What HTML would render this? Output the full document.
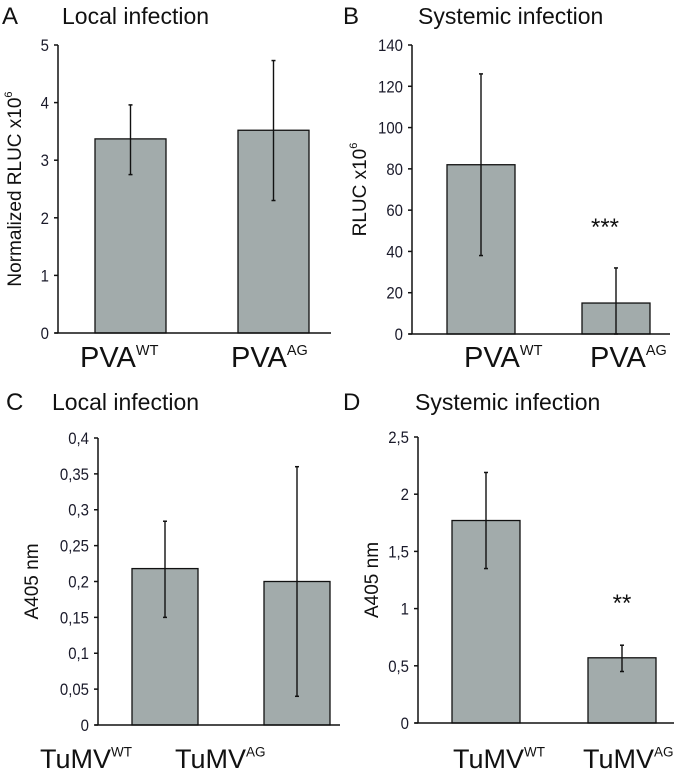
<!DOCTYPE html>
<html><head><meta charset="utf-8"><style>
body{margin:0;background:#fff}
svg{display:block;font-family:"Liberation Sans",sans-serif}
</style></head><body>
<svg id="fig" width="679" height="771" viewBox="0 0 679 771" xmlns="http://www.w3.org/2000/svg"></svg>
<script>
// Panel A
const aCats = ["WT","AG"];
const aVals = [3.37, 3.52];
const aLow = [2.75, 2.30];
const aHigh = [3.96, 4.73];
const aTicks = ["0","1","2","3","4","5"];
// Panel B
const bCats = ["WT","AG"];
const bVals = [82, 15];
const bLow = [38, 0];
const bHigh = [126, 32];
const bTicks = ["0","20","40","60","80","100","120","140"];
// Panel C
const cCats = ["WT","AG"];
const cVals = [0.218, 0.200];
const cLow = [0.150, 0.040];
const cHigh = [0.284, 0.360];
const cTicks = ["0","0,05","0,1","0,15","0,2","0,25","0,3","0,35","0,4"];
// Panel D
const dCats = ["WT","AG"];
const dVals = [1.77, 0.57];
const dLow = [1.35, 0.45];
const dHigh = [2.19, 0.68];
const dTicks = ["0","0,5","1","1,5","2","2,5"];

const svg = document.getElementById('fig');
const NS = "http://www.w3.org/2000/svg";
function mk(tag, attrs, parent){
  const e = document.createElementNS(NS, tag);
  for (const k in attrs) e.setAttribute(k, attrs[k]);
  (parent||svg).appendChild(e);
  return e;
}
function panel(cfg){
  const g = mk('g', {});
  
  
  const yMax = parseFloat(cfg.ticks[cfg.ticks.length-1].replace(',', '.'));
  const y = v => cfg.y0 - (v / yMax) * (cfg.y0 - cfg.yTop);
  const L = mk('text', {x:cfg.letterX, y:cfg.titleY, 'font-size':24, fill:'#111'}, g);
  L.textContent = cfg.letter;
  
  
  const T = mk('text', {x:cfg.titleX, y:cfg.titleY, 'font-size':23, fill:'#111'}, g);
  T.textContent = cfg.title;
  
  
  cfg.vals.forEach((v, i) => {
    const bx = cfg.barX[i];
    const r = mk('rect', {x:bx, y:y(v), width:cfg.barW, height:cfg.y0 - y(v), fill:'#a2abab', stroke:'#111', 'stroke-width':1.3}, g);
    
    
    const cx = bx + cfg.barW/2;
    const e = mk('line', {x1:cx, x2:cx, y1:y(cfg.low[i]), y2:y(cfg.high[i]), stroke:'#111', 'stroke-width':1.4}, g);
    
    
    [cfg.low[i], cfg.high[i]].forEach(ev => {
      const c = mk('line', {x1:cx-2, x2:cx+2, y1:y(ev), y2:y(ev), stroke:'#111', 'stroke-width':1.5}, g);
      
      
    });
    const lab = mk('text', {x:cfg.labX[i], y:cfg.labY, 'font-size':cfg.labSize, fill:'#111'}, g);
    
    
    const t1 = mk('tspan', {}, lab); t1.textContent = cfg.prefix;
    const t2 = mk('tspan', {'font-size':cfg.labSize*0.5, dy:-cfg.labSize*0.42}, lab); t2.textContent = cfg.cats[i];
  });
  const ya = mk('line', {x1:cfg.ax, x2:cfg.ax, y1:cfg.yTop, y2:cfg.y0, stroke:'#111', 'stroke-width':1.5}, g);
  
  
  const xa = mk('line', {x1:cfg.ax-3, x2:cfg.xEnd, y1:cfg.y0, y2:cfg.y0, stroke:'#111', 'stroke-width':1.5}, g);
  
  
  cfg.ticks.forEach(t => {
    const v = parseFloat(t.replace(',', '.'));
    const tk = mk('line', {x1:cfg.ax-4, x2:cfg.ax, y1:y(v), y2:y(v), stroke:'#111', 'stroke-width':1.5}, g);
    
    
    const tl = mk('text', {x:cfg.ax-9, y:y(v)+6, 'font-size':17, 'text-anchor':'end', fill:'#1a1a2a', transform:`translate(${cfg.ax-9} 0) scale(0.88 1) translate(${-(cfg.ax-9)} 0)`}, g);
    tl.textContent = t;
    
    
  });
  const ymid = (cfg.yTop + cfg.y0)/2;
  const yt = mk('text', {x:cfg.yLabX, y:ymid, 'font-size':19, 'text-anchor':'middle', fill:'#111', transform:`rotate(-90 ${cfg.yLabX} ${ymid})`}, g);
  
  
  const ym = mk('tspan', {}, yt); ym.textContent = cfg.yLabel;
  if (cfg.ySup){ const s = mk('tspan', {'font-size':11, dy:-9}, yt); s.textContent = cfg.ySup; }
  if (cfg.stars){
    const st = mk('text', {x:cfg.stars.x, y:cfg.stars.y, 'font-size':24, 'text-anchor':'middle', fill:'#111'}, g);
    st.textContent = cfg.stars.t;
    
    
  }
}
panel({letter:'A', title:'Local infection', letterX:2, titleX:62, titleY:24, cats:aCats, vals:aVals, low:aLow, high:aHigh, ticks:aTicks,
  ax:58, yTop:45, y0:333, xEnd:331, barX:[95,238], barW:71, prefix:'PVA', labX:[80,231], labY:367, labSize:29,
  yLabX:21, yLabel:'Normalized RLUC x10', ySup:'6'});
panel({letter:'B', title:'Systemic infection', letterX:343, titleX:418, titleY:24, cats:bCats, vals:bVals, low:bLow, high:bHigh, ticks:bTicks,
  ax:412, yTop:45, y0:334, xEnd:670, barX:[447,582], barW:68, prefix:'PVA', labX:[464,590], labY:367, labSize:29,
  yLabX:366, yLabel:'RLUC x10', ySup:'6', stars:{x:605, y:235, t:'***'}});
panel({letter:'C', title:'Local infection', letterX:6, titleX:52, titleY:410, cats:cCats, vals:cVals, low:cLow, high:cHigh, ticks:cTicks,
  ax:98, yTop:438, y0:725, xEnd:340, barX:[132,264], barW:66, prefix:'TuMV', labX:[40,175], labY:768, labSize:27,
  yLabX:38, yLabel:'A405 nm'});
panel({letter:'D', title:'Systemic infection', letterX:343, titleX:415, titleY:410, cats:dCats, vals:dVals, low:dLow, high:dHigh, ticks:dTicks,
  ax:418, yTop:437, y0:723, xEnd:674, barX:[452,588], barW:68, prefix:'TuMV', labX:[453,583], labY:768, labSize:27,
  yLabX:378, yLabel:'A405 nm', stars:{x:622, y:611, t:'**'}});
</script>
</body></html>
